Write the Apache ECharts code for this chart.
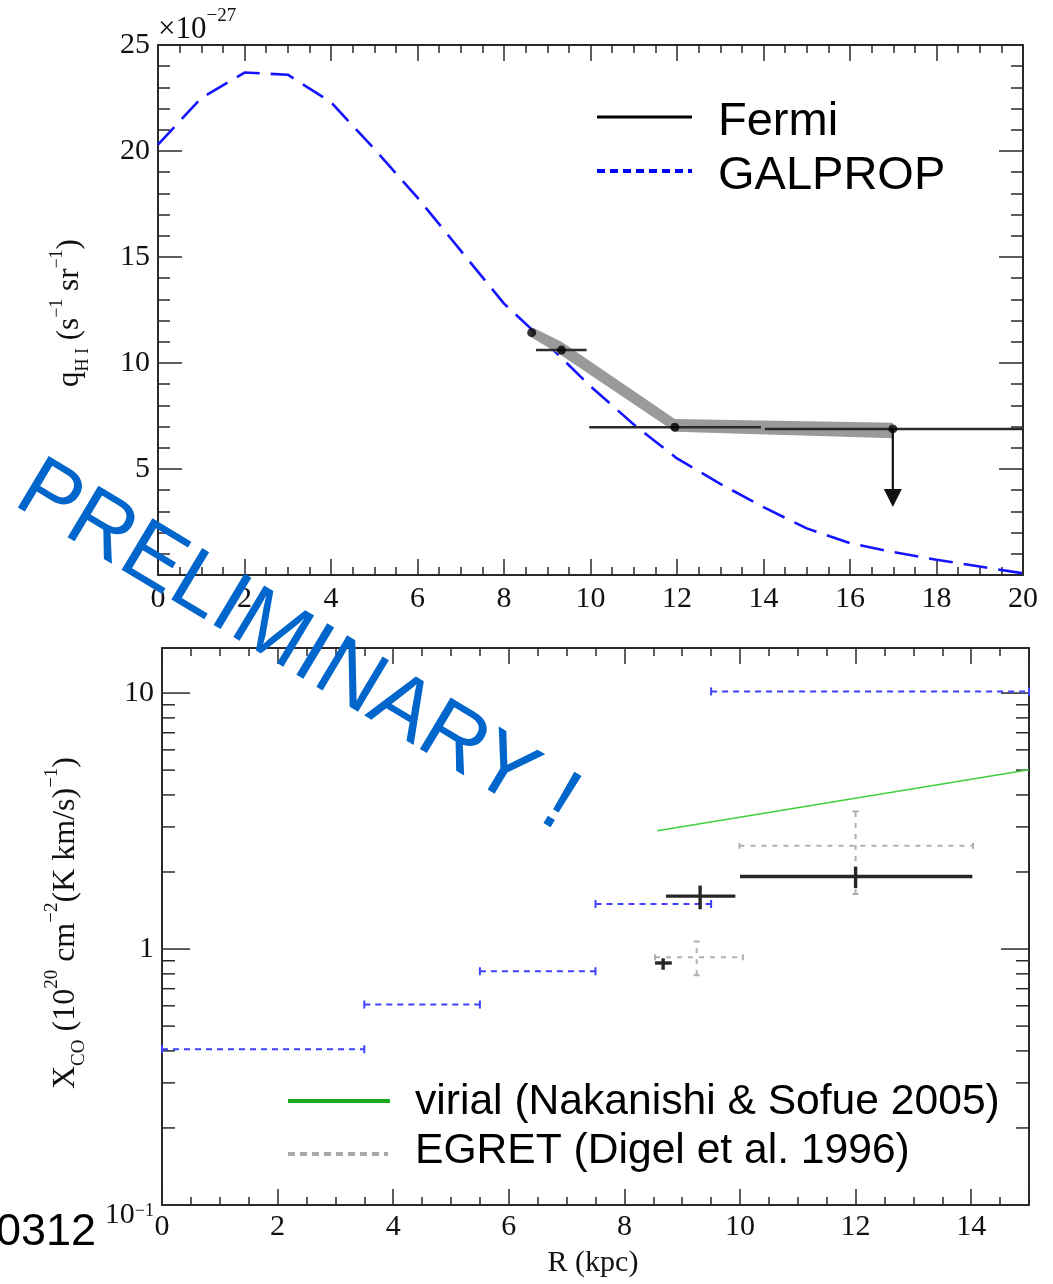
<!DOCTYPE html>
<html>
<head>
<meta charset="utf-8">
<script src="https://cdn.jsdelivr.net/npm/echarts@6/dist/echarts.min.js"></script>
<style>
  html, body { margin: 0; padding: 0; background: #fff; }
  #chart { width: 1053px; height: 1284px; }
</style>
</head>
<body>
<div id="chart"></div>
<script>
// ---------- upper panel: HI emissivity q_HI (x 1e-27 s^-1 sr^-1) vs R (kpc) ----------
const galpropR = [0, 1, 2, 3, 4, 5, 6, 7, 8, 9, 10, 11, 12, 13, 14, 15, 16, 17, 18, 19, 20];
const galpropQ = [20.3, 22.5, 23.7, 23.6, 22.3, 20.1, 17.8, 15.3, 12.8, 10.9, 8.9, 7.1, 5.5, 4.3, 3.2, 2.2, 1.5, 1.08, 0.72, 0.4, 0.08];

// Fermi ring measurements: centre R, value, radial extent of the ring
const fermiR   = [8.64, 9.33, 11.95];
const fermiQ   = [11.43, 10.61, 6.97];
const fermiRlo = [8.64, 8.74, 9.97];
const fermiRhi = [8.64, 9.91, 13.94];
// outermost ring is an upper limit
const limitR = [16.99];
const limitQ = [6.89];
const limitRlo = [14.03];
const limitRhi = [20];
// systematic band around the Fermi profile
const bandR  = [8.64, 9.33, 11.95, 16.99];
const bandHi = [11.7, 11.0, 7.36, 7.18];
const bandLo = [11.2, 10.35, 6.76, 6.45];

// upper panel tick labels
const qTicks = [5, 10, 15, 20, 25];
const rTicksTop = [0, 2, 4, 6, 8, 10, 12, 14, 16, 18, 20];

// ---------- lower panel: X_CO (1e20 cm^-2 (K km/s)^-1) vs R (kpc) ----------
const galpropStepLo = [0, 3.5, 5.5, 7.5, 9.5];
const galpropStepHi = [3.5, 5.5, 7.5, 9.5, 15];
const galpropXco    = [0.406, 0.607, 0.819, 1.50, 10.15];

const virialR   = [8.57, 15.0];
const virialXco = [2.90, 5.02];

const egretR    = [9.25, 12.0];
const egretXco  = [0.928, 2.53];
const egretRlo  = [8.53, 9.99];
const egretRhi  = [10.05, 14.03];
const egretXlo  = [0.79, 1.64];
const egretXhi  = [1.07, 3.45];

const fermiXR    = [8.67, 9.31, 12.0];
const fermiXco   = [0.882, 1.61, 1.92];
const fermiXRlo  = [8.53, 8.72, 10.0];
const fermiXRhi  = [8.82, 9.92, 14.02];
const fermiXlo   = [0.83, 1.43, 1.73];
const fermiXhi   = [0.92, 1.77, 2.10];

// log-axis tick marks of the lower panel
const xcoMajorTicks = [1, 10];
const xcoMinorTicks = [0.2, 0.3, 0.4, 0.5, 0.6, 0.7, 0.8, 0.9, 2, 3, 4, 5, 6, 7, 8, 9];
const rTicksBottom = [0, 2, 4, 6, 8, 10, 12, 14];

// ---------- styling ----------
const SERIF = 'Liberation Serif';
const SANS = 'Liberation Sans';
const AX = '#2a2a2a';
const LBL = '#111';

const chart = echarts.init(document.getElementById('chart'), null, { renderer: 'canvas' });

function line(x1, y1, x2, y2, style) {
  return { type: 'line', shape: { x1, y1, x2, y2 }, style };
}

// crosses: horizontal bar over [xlo,xhi] and vertical bar over [ylo,yhi]
function crossRenderer(color, width, dash, cap) {
  return function (params, api) {
    const x = api.value(0), y = api.value(1);
    const xlo = api.value(2), xhi = api.value(3), ylo = api.value(4), yhi = api.value(5);
    const st = { stroke: color, lineWidth: width, lineDash: dash, fill: null };
    const kids = [];
    if (xhi > xlo) {
      const a = api.coord([xlo, y]), b = api.coord([xhi, y]);
      kids.push(line(a[0], a[1], b[0], b[1], st));
      if (cap) {
        kids.push(line(a[0], a[1] - cap, a[0], a[1] + cap, { stroke: color, lineWidth: width }));
        kids.push(line(b[0], b[1] - cap, b[0], b[1] + cap, { stroke: color, lineWidth: width }));
      }
    }
    if (yhi > ylo) {
      const c = api.coord([x, ylo]), d = api.coord([x, yhi]);
      kids.push(line(c[0], c[1], d[0], d[1], st));
      if (cap) {
        kids.push(line(c[0] - cap, c[1], c[0] + cap, c[1], { stroke: color, lineWidth: width }));
        kids.push(line(d[0] - cap, d[1], d[0] + cap, d[1], { stroke: color, lineWidth: width }));
      }
    }
    return { type: 'group', children: kids };
  };
}

const fermiTopRows = fermiR.map((r, i) => [r, fermiQ[i], fermiRlo[i], fermiRhi[i], fermiQ[i], fermiQ[i]])
  .concat(limitR.map((r, i) => [r, limitQ[i], limitRlo[i], limitRhi[i], limitQ[i], limitQ[i]]));

const galpropStepRows = galpropXco.map((v, i) => [(galpropStepLo[i] + galpropStepHi[i]) / 2, v, galpropStepLo[i], galpropStepHi[i], v, v]);
const egretRows = egretR.map((r, i) => [r, egretXco[i], egretRlo[i], egretRhi[i], egretXlo[i], egretXhi[i]]);
const fermiXRows = fermiXR.map((r, i) => [r, fermiXco[i], fermiXRlo[i], fermiXRhi[i], fermiXlo[i], fermiXhi[i]]);
const logTickRows = xcoMajorTicks.map(v => [0, v, 1]).concat(xcoMinorTicks.map(v => [0, v, 0]));

const tickStyle = { color: AX, width: 1.5 };
const lineAxis = { show: true, onZero: false, lineStyle: { color: AX, width: 2 } };

function isPow10(v) {
  const l = Math.log10(v);
  return Math.abs(l - Math.round(l)) < 1e-6;
}

const option = {
  animation: false,
  backgroundColor: '#fff',
  grid: [
    { left: 158, top: 45, width: 865, height: 530, outerBoundsMode: 'none', containLabel: false },
    { left: 162, top: 648, width: 867, height: 557, outerBoundsMode: 'none', containLabel: false }
  ],
  xAxis: [
    { // 0: upper panel, bottom
      gridIndex: 0, type: 'value', position: 'bottom', min: 0, max: 20, interval: 2,
      axisLine: lineAxis, splitLine: { show: false },
      axisTick: { inside: true, length: 16, lineStyle: tickStyle },
      minorTick: { show: true, splitNumber: 4, length: 8, lineStyle: tickStyle },
      axisLabel: { fontFamily: SERIF, fontSize: 30, color: LBL, margin: 9,
        formatter: v => (rTicksTop.includes(v) ? String(v) : '') }
    },
    { // 1: upper panel, top mirror
      gridIndex: 0, type: 'value', position: 'top', min: 0, max: 20, interval: 2,
      axisLine: lineAxis, splitLine: { show: false },
      axisTick: { inside: true, length: 16, lineStyle: tickStyle },
      minorTick: { show: true, splitNumber: 4, length: 8, lineStyle: tickStyle },
      axisLabel: { show: false }
    },
    { // 2: lower panel, bottom, major ticks + labels
      gridIndex: 1, type: 'value', position: 'bottom', min: 0, max: 15, interval: 2,
      axisLine: lineAxis, splitLine: { show: false },
      axisTick: { inside: true, length: 16, lineStyle: tickStyle },
      axisLabel: { fontFamily: SERIF, fontSize: 30, color: LBL, margin: 7,
        formatter: v => (rTicksBottom.includes(v) ? String(v) : '') }
    },
    { // 3: lower panel, bottom, half-kpc ticks
      gridIndex: 1, type: 'value', position: 'bottom', min: 0, max: 15, interval: 0.5,
      axisLine: { show: false }, splitLine: { show: false },
      axisTick: { inside: true, length: 8, lineStyle: tickStyle },
      axisLabel: { show: false }
    },
    { // 4: lower panel, top mirror major
      gridIndex: 1, type: 'value', position: 'top', min: 0, max: 15, interval: 2,
      axisLine: lineAxis, splitLine: { show: false },
      axisTick: { inside: true, length: 16, lineStyle: tickStyle },
      axisLabel: { show: false }
    },
    { // 5: lower panel, top mirror half-kpc
      gridIndex: 1, type: 'value', position: 'top', min: 0, max: 15, interval: 0.5,
      axisLine: { show: false }, splitLine: { show: false },
      axisTick: { inside: true, length: 8, lineStyle: tickStyle },
      axisLabel: { show: false }
    }
  ],
  yAxis: [
    { // 0: upper panel, left
      gridIndex: 0, type: 'value', position: 'left', min: 0, max: 25, interval: 5,
      axisLine: lineAxis, splitLine: { show: false },
      axisTick: { inside: true, length: 24, lineStyle: tickStyle },
      minorTick: { show: true, splitNumber: 5, length: 12, lineStyle: tickStyle },
      axisLabel: { fontFamily: SERIF, fontSize: 30, color: LBL, margin: 8,
        formatter: v => (qTicks.includes(v) ? String(v) : '') }
    },
    { // 1: upper panel, right mirror
      gridIndex: 0, type: 'value', position: 'right', min: 0, max: 25, interval: 5,
      axisLine: lineAxis, splitLine: { show: false },
      axisTick: { inside: true, length: 24, lineStyle: tickStyle },
      minorTick: { show: true, splitNumber: 5, length: 12, lineStyle: tickStyle },
      axisLabel: { show: false }
    },
    { // 2: lower panel, left (log)
      gridIndex: 1, type: 'log', logBase: 10, position: 'left', min: 0.1, max: 15, splitNumber: 2,
      axisLine: lineAxis, splitLine: { show: false }, axisTick: { show: false },
      axisLabel: {
        color: LBL, margin: 8, fontFamily: SERIF, fontSize: 30,
        formatter: v => {
          if (!isPow10(v) || v > 10.5) return '';
          if (v < 0.5) return '{m|10}{e|−1}';
          return '{n|' + Math.round(v) + '}';
        },
        rich: {
          n: { fontFamily: SERIF, fontSize: 30, color: LBL, lineHeight: 30 },
          m: { fontFamily: SERIF, fontSize: 30, color: LBL, lineHeight: 30, padding: [20, 0, 0, 0] },
          e: { fontFamily: SERIF, fontSize: 18, color: LBL, verticalAlign: 'top', lineHeight: 18, padding: [12, 0, 0, 0] }
        }
      }
    },
    { // 3: lower panel, right mirror (log)
      gridIndex: 1, type: 'log', logBase: 10, position: 'right', min: 0.1, max: 15, splitNumber: 2,
      axisLine: lineAxis, splitLine: { show: false }, axisTick: { show: false },
      axisLabel: { show: false }
    }
  ],
  series: [
    // ---- upper panel ----
    {
      name: 'GALPROP', type: 'line', xAxisIndex: 0, yAxisIndex: 0,
      data: galpropR.map((r, i) => [r, galpropQ[i]]),
      showSymbol: false, smooth: false, z: 3,
      lineStyle: { color: '#1414ff', width: 2.6, type: [24, 11] }
    },
    {
      name: 'Fermi band', type: 'custom', xAxisIndex: 0, yAxisIndex: 0, z: 4,
      data: [[bandR[0], bandHi[0]]],
      renderItem: function (params, api) {
        const pts = [];
        for (let i = 0; i < bandR.length; i++) pts.push(api.coord([bandR[i], bandHi[i]]));
        for (let i = bandR.length - 1; i >= 0; i--) pts.push(api.coord([bandR[i], bandLo[i]]));
        return { type: 'polygon', shape: { points: pts }, style: { fill: '#9a9a9a', stroke: null } };
      }
    },
    {
      name: 'Fermi bars', type: 'custom', xAxisIndex: 0, yAxisIndex: 0, z: 5,
      data: fermiTopRows, encode: { x: [0, 2, 3], y: [1, 4, 5] },
      renderItem: crossRenderer('#2b2b2b', 2.6, null, 0)
    },
    {
      name: 'Fermi limit', type: 'custom', xAxisIndex: 0, yAxisIndex: 0, z: 5,
      data: limitR.map((r, i) => [r, limitQ[i]]),
      renderItem: function (params, api) {
        const p = api.coord([api.value(0), api.value(1)]);
        const stem = 62, head = 16, half = 9;
        return {
          type: 'group', children: [
            line(p[0], p[1], p[0], p[1] + stem, { stroke: '#111', lineWidth: 2.2 }),
            { type: 'polygon', shape: { points: [[p[0] - half, p[1] + stem - 2], [p[0] + half, p[1] + stem - 2], [p[0], p[1] + stem + head]] },
              style: { fill: '#111' } }
          ]
        };
      }
    },
    {
      name: 'Fermi', type: 'scatter', xAxisIndex: 0, yAxisIndex: 0, z: 6,
      data: fermiR.map((r, i) => [r, fermiQ[i]]).concat(limitR.map((r, i) => [r, limitQ[i]])),
      symbol: 'circle', symbolSize: 9, itemStyle: { color: '#000' }
    },
    // ---- lower panel ----
    {
      name: 'log ticks', type: 'custom', xAxisIndex: 2, yAxisIndex: 2, z: 2, silent: true,
      data: logTickRows, encode: { x: 0, y: 1 },
      renderItem: function (params, api) {
        const v = api.value(1), major = api.value(2) === 1;
        const len = major ? 28 : 13;
        const L = api.coord([0, v]), R = api.coord([15, v]);
        const st = { stroke: AX, lineWidth: 1.5 };
        return { type: 'group', children: [line(L[0], L[1], L[0] + len, L[1], st), line(R[0] - len, R[1], R[0], R[1], st)] };
      }
    },
    {
      name: 'GALPROP X_CO', type: 'custom', xAxisIndex: 2, yAxisIndex: 2, z: 3,
      data: galpropStepRows, encode: { x: [0, 2, 3], y: [1, 4, 5] },
      renderItem: crossRenderer('#4040ff', 2, [6, 5], 4)
    },
    {
      name: 'virial', type: 'line', xAxisIndex: 2, yAxisIndex: 2, z: 3,
      data: virialR.map((r, i) => [r, virialXco[i]]),
      showSymbol: false, lineStyle: { color: '#3fcf3f', width: 1.6 }
    },
    {
      name: 'EGRET', type: 'custom', xAxisIndex: 2, yAxisIndex: 2, z: 3,
      data: egretRows, encode: { x: [0, 2, 3], y: [1, 4, 5] },
      renderItem: crossRenderer('#b0b0b0', 2, [5, 6], 3)
    },
    {
      name: 'Fermi X_CO', type: 'custom', xAxisIndex: 2, yAxisIndex: 2, z: 4,
      data: fermiXRows, encode: { x: [0, 2, 3], y: [1, 4, 5] },
      renderItem: crossRenderer('#262626', 3.4, null, 0)
    }
  ],
  graphic: [
    // axis titles
    {
      type: 'text', x: 70, y: 313, rotation: Math.PI / 2, z: 10,
      style: {
        text: '{n|q}{b|H I}{n| (s}{t|−1}{n| sr}{t|−1}{n|)}',
        align: 'center', verticalAlign: 'middle',
        rich: {
          n: { fontFamily: SERIF, fontSize: 31, fill: LBL, lineHeight: 44 },
          b: { fontFamily: SERIF, fontSize: 18, fill: LBL, verticalAlign: 'bottom', lineHeight: 18 },
          t: { fontFamily: SERIF, fontSize: 18, fill: LBL, verticalAlign: 'top', lineHeight: 18 }
        }
      }
    },
    {
      type: 'text', x: 66, y: 923, rotation: Math.PI / 2, z: 10,
      style: {
        text: '{n|X}{b|CO}{n| (10}{t|20}{n| cm}{t|−2}{n|(K km/s)}{t|−1}{n|)}',
        align: 'center', verticalAlign: 'middle',
        rich: {
          n: { fontFamily: SERIF, fontSize: 32, fill: LBL, lineHeight: 46 },
          b: { fontFamily: SERIF, fontSize: 19, fill: LBL, verticalAlign: 'bottom', lineHeight: 19 },
          t: { fontFamily: SERIF, fontSize: 19, fill: LBL, verticalAlign: 'top', lineHeight: 19 }
        }
      }
    },
    {
      type: 'text', x: 158, y: 30, z: 10,
      style: {
        text: '{n|×10}{t|−27}', align: 'left', verticalAlign: 'middle',
        rich: {
          n: { fontFamily: SERIF, fontSize: 31, fill: LBL, lineHeight: 46 },
          t: { fontFamily: SERIF, fontSize: 19, fill: LBL, verticalAlign: 'top', lineHeight: 19 }
        }
      }
    },
    {
      type: 'text', x: 593, y: 1263, z: 10,
      style: { text: 'R (kpc)', fontFamily: SERIF, fontSize: 30, fill: LBL, align: 'center', verticalAlign: 'middle' }
    },
    // upper legend
    { type: 'line', shape: { x1: 597, y1: 117, x2: 692, y2: 117 }, style: { stroke: '#000', lineWidth: 3 }, z: 10 },
    { type: 'line', shape: { x1: 597, y1: 171, x2: 692, y2: 171 }, style: { stroke: '#0000ff', lineWidth: 4, lineDash: [8, 5] }, z: 10 },
    { type: 'text', x: 718, y: 122, z: 10, style: { text: 'Fermi', fontFamily: SANS, fontSize: 47, fill: '#000', align: 'left', verticalAlign: 'middle' } },
    { type: 'text', x: 718, y: 176, z: 10, style: { text: 'GALPROP', fontFamily: SANS, fontSize: 47, fill: '#000', align: 'left', verticalAlign: 'middle' } },
    // lower legend
    { type: 'line', shape: { x1: 288, y1: 1101, x2: 390, y2: 1101 }, style: { stroke: '#1aaa1a', lineWidth: 4 }, z: 10 },
    { type: 'line', shape: { x1: 288, y1: 1154, x2: 388, y2: 1154 }, style: { stroke: '#a8a8a8', lineWidth: 4, lineDash: [7, 5] }, z: 10 },
    { type: 'text', x: 415, y: 1102, z: 10, style: { text: 'virial (Nakanishi & Sofue 2005)', fontFamily: SANS, fontSize: 42.6, fill: '#000', align: 'left', verticalAlign: 'middle' } },
    { type: 'text', x: 415, y: 1151, z: 10, style: { text: 'EGRET (Digel et al. 1996)', fontFamily: SANS, fontSize: 42.6, fill: '#000', align: 'left', verticalAlign: 'middle' } },
    // page reference number at the lower left
    { type: 'text', x: 96, y: 1233, z: 10, style: { text: '0312', fontFamily: SANS, fontSize: 45, fill: '#000', align: 'right', verticalAlign: 'middle' } },
    // watermark
    {
      type: 'text', x: 297, y: 647, rotation: -31 * Math.PI / 180, z: 20,
      style: { text: 'PRELIMINARY !', fontFamily: SANS, fontSize: 87, fill: '#0066cc', align: 'center', verticalAlign: 'middle' }
    }
  ]
};

chart.setOption(option);
</script>
</body>
</html>
